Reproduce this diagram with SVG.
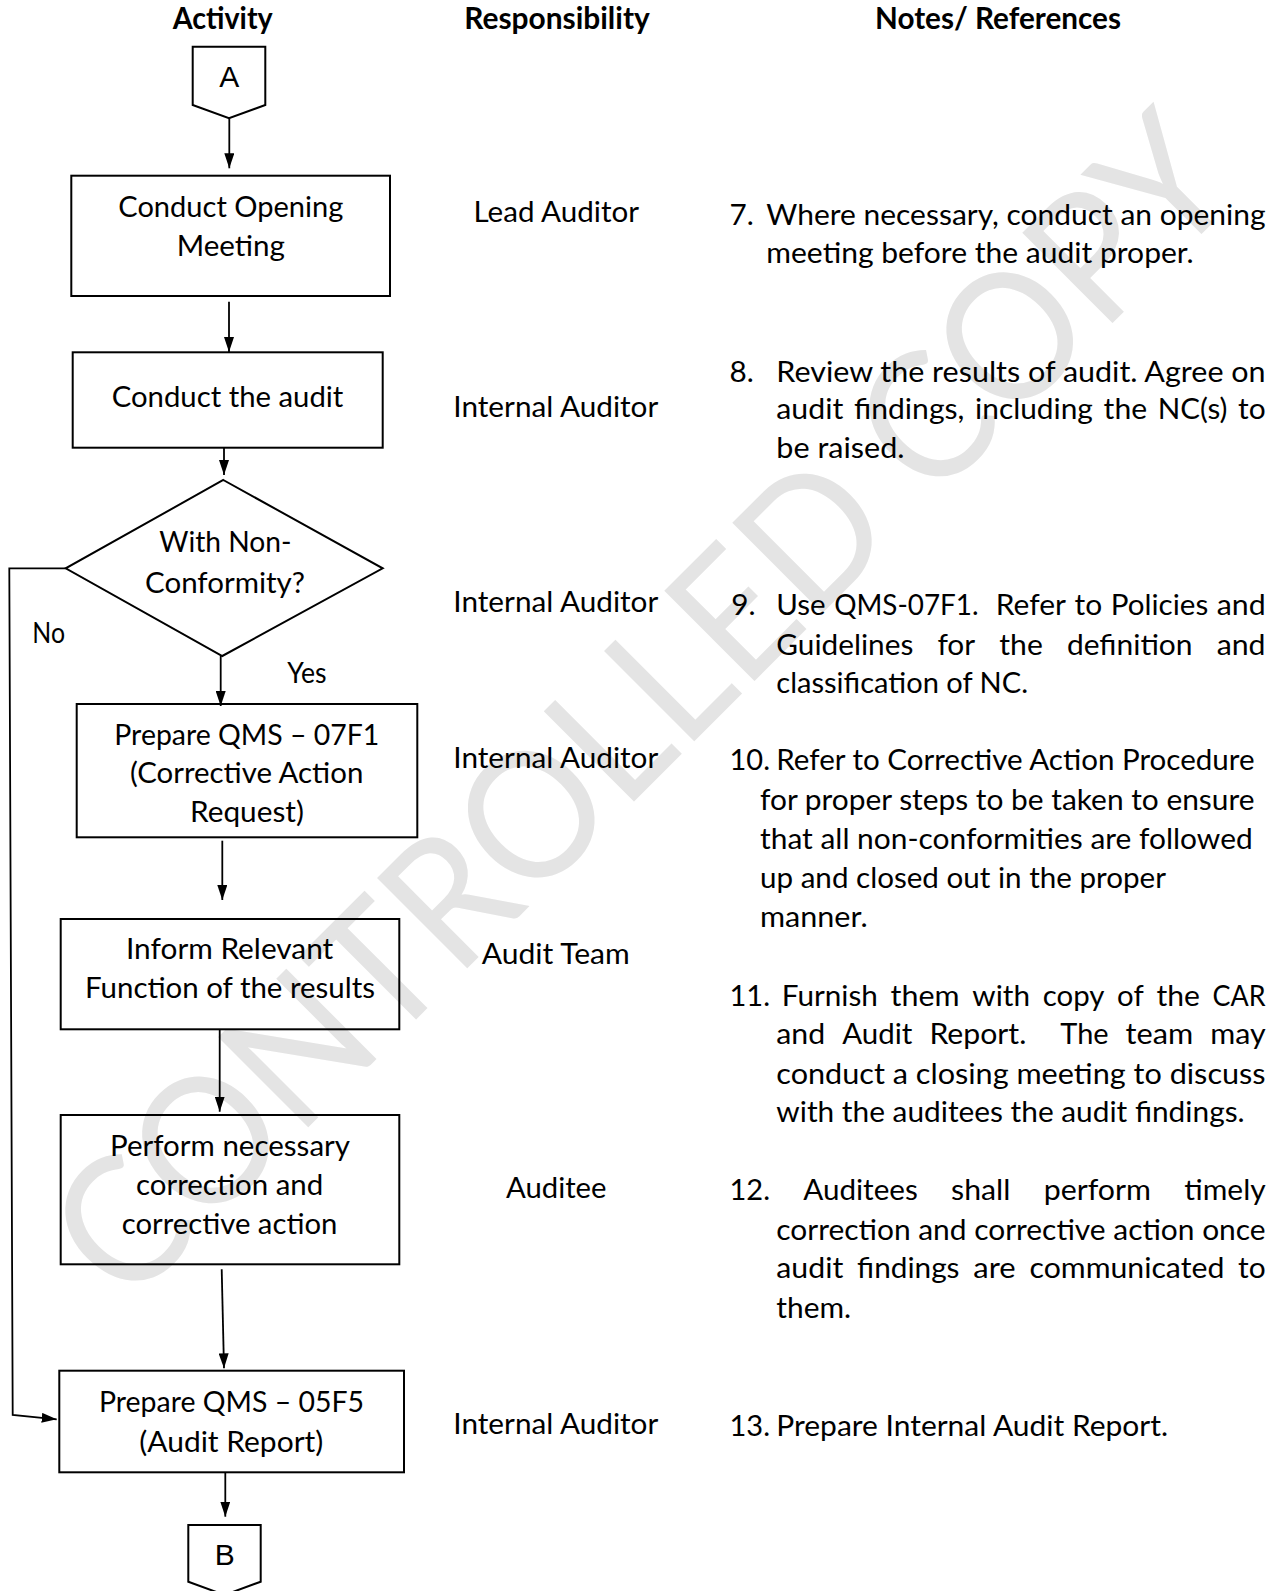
<svg xmlns="http://www.w3.org/2000/svg" width="1276" height="1591" viewBox="0 0 1276 1591">
<style>
.t{font-family:Lato,"Liberation Sans",sans-serif;font-size:29.5px;fill:#000}
.b{font-family:Lato,"Liberation Sans",sans-serif;font-size:29.5px;font-weight:bold;fill:#000}
.ab{font-family:"Liberation Sans",Arial,sans-serif;font-size:30px;fill:#000}
.wm{font-family:Lato,"Liberation Sans",sans-serif;font-size:178px;fill:#e4e4e4}
.shape{fill:none;stroke:#000;stroke-width:2}
.conn{fill:none;stroke:#000;stroke-width:1.8}
</style>
<defs>
<marker id="arr" viewBox="0 0 15 10" refX="15" refY="5" markerWidth="15" markerHeight="10" markerUnits="userSpaceOnUse" orient="auto">
<path d="M0,0 L15,5 L0,10 z" fill="#000"/>
</marker>
</defs>
<rect width="1276" height="1591" fill="#fff"/>
<g id="watermark">
<text class="wm" transform="translate(640,705) rotate(-45)" x="-790" y="64" textLength="1580" lengthAdjust="spacingAndGlyphs">CONTROLLED COPY</text>
</g>
<g id="headers">
<text class="b" x="172.7" y="28.5" textLength="100" lengthAdjust="spacingAndGlyphs">Activity</text>
<text class="b" x="464.2" y="28.5" textLength="185.6" lengthAdjust="spacingAndGlyphs">Responsibility</text>
<text class="b" x="875" y="28.5" textLength="246" lengthAdjust="spacingAndGlyphs">Notes/ References</text>
</g>
<g id="connectors">
<line class="conn" x1="229.3" y1="118.3" x2="229.3" y2="168.3" marker-end="url(#arr)"/>
<line class="conn" x1="229" y1="301.7" x2="229" y2="352" marker-end="url(#arr)"/>
<line class="conn" x1="224" y1="447.7" x2="224" y2="475" marker-end="url(#arr)"/>
<line class="conn" x1="220.7" y1="656" x2="220.7" y2="706" marker-end="url(#arr)"/>
<line class="conn" x1="222.3" y1="840.7" x2="222.3" y2="900" marker-end="url(#arr)"/>
<line class="conn" x1="219.7" y1="1029.3" x2="219.7" y2="1111.7" marker-end="url(#arr)"/>
<line class="conn" x1="221.7" y1="1269.3" x2="224" y2="1368.3" marker-end="url(#arr)"/>
<line class="conn" x1="225.3" y1="1472.3" x2="225.3" y2="1516.7" marker-end="url(#arr)"/>
<polyline class="conn" points="65.7,568.3 9.3,568.3 12.7,1415 56.7,1419.3" marker-end="url(#arr)"/>
<text class="t" x="32.3" y="643.3" textLength="32.7" lengthAdjust="spacingAndGlyphs">No</text>
<text class="t" x="287.3" y="683.3" textLength="39.3" lengthAdjust="spacingAndGlyphs">Yes</text>
</g>
<g id="nodeA">
<polygon class="shape" points="192.7,46.7 265.3,46.7 265.3,105 229,118.3 192.7,105"/>
<text class="ab" x="229.3" y="86.7" text-anchor="middle">A</text>
</g>
<g id="node1">
<rect class="shape" x="71.3" y="175.7" width="318.7" height="120.3"/>
<text class="t" x="118.3" y="217.3" textLength="225" lengthAdjust="spacingAndGlyphs">Conduct Opening</text>
<text class="t" x="176.7" y="256" textLength="108.3" lengthAdjust="spacingAndGlyphs">Meeting</text>
</g>
<g id="node2">
<rect class="shape" x="72.7" y="352.3" width="310" height="95.4"/>
<text class="t" x="111.7" y="407.3" textLength="231.7" lengthAdjust="spacingAndGlyphs">Conduct the audit</text>
</g>
<g id="decision">
<polygon class="shape" points="223.3,480 382.7,568.3 222.3,656 65.7,568.3"/>
<text class="t" x="159.3" y="551.7" textLength="132.3" lengthAdjust="spacingAndGlyphs">With Non-</text>
<text class="t" x="145" y="592.7" textLength="160" lengthAdjust="spacingAndGlyphs">Conformity?</text>
</g>
<g id="node3">
<rect class="shape" x="76.7" y="704" width="340.6" height="133.3"/>
<text class="t" x="114.3" y="745" textLength="265" lengthAdjust="spacingAndGlyphs">Prepare QMS – 07F1</text>
<text class="t" x="130" y="783.3" textLength="233.3" lengthAdjust="spacingAndGlyphs">(Corrective Action</text>
<text class="t" x="190" y="821.7" textLength="114" lengthAdjust="spacingAndGlyphs">Request)</text>
</g>
<g id="node4">
<rect class="shape" x="60.7" y="919" width="338.6" height="110.3"/>
<text class="t" x="126" y="959.3" textLength="207.3" lengthAdjust="spacingAndGlyphs">Inform Relevant</text>
<text class="t" x="85" y="997.7" textLength="290" lengthAdjust="spacingAndGlyphs">Function of the results</text>
</g>
<g id="node5">
<rect class="shape" x="60.7" y="1115" width="338.6" height="149.3"/>
<text class="t" x="110" y="1156" textLength="240" lengthAdjust="spacingAndGlyphs">Perform necessary</text>
<text class="t" x="136" y="1195" textLength="187.3" lengthAdjust="spacingAndGlyphs">correction and</text>
<text class="t" x="121.7" y="1234.3" textLength="215.7" lengthAdjust="spacingAndGlyphs">corrective action</text>
</g>
<g id="node6">
<rect class="shape" x="59.3" y="1370.7" width="344.7" height="101.6"/>
<text class="t" x="99" y="1411.7" textLength="265" lengthAdjust="spacingAndGlyphs">Prepare QMS – 05F5</text>
<text class="t" x="139.3" y="1451.7" textLength="184" lengthAdjust="spacingAndGlyphs">(Audit Report)</text>
</g>
<g id="nodeB">
<polygon class="shape" points="188.3,1525 260.7,1525 260.7,1581.7 224.5,1595 188.3,1581.7"/>
<text class="ab" x="224.7" y="1565" text-anchor="middle">B</text>
</g>
<g id="responsibility">
<text class="t" x="473.5" y="221.5" textLength="165.5" lengthAdjust="spacingAndGlyphs">Lead Auditor</text>
<text class="t" x="453.3" y="417.2" textLength="205" lengthAdjust="spacingAndGlyphs">Internal Auditor</text>
<text class="t" x="453.3" y="612" textLength="205" lengthAdjust="spacingAndGlyphs">Internal Auditor</text>
<text class="t" x="453.3" y="768.2" textLength="205" lengthAdjust="spacingAndGlyphs">Internal Auditor</text>
<text class="t" x="481.8" y="964" textLength="148" lengthAdjust="spacingAndGlyphs">Audit Team</text>
<text class="t" x="506" y="1198.3" textLength="100.5" lengthAdjust="spacingAndGlyphs">Auditee</text>
<text class="t" x="453.3" y="1433.5" textLength="205" lengthAdjust="spacingAndGlyphs">Internal Auditor</text>
</g>
<g id="notes">
<text class="t" x="729.5" y="224.5" textLength="24.3" lengthAdjust="spacingAndGlyphs">7.</text>
<text class="t" x="766.3" y="224.5" textLength="499.3" lengthAdjust="spacingAndGlyphs">Where necessary, conduct an opening</text>
<text class="t" x="766.3" y="263" textLength="427.4" lengthAdjust="spacingAndGlyphs">meeting before the audit proper.</text>

<text class="t" x="729.5" y="381.7" textLength="24.3" lengthAdjust="spacingAndGlyphs">8.</text>
<text class="t" x="776.3" y="381.7" textLength="489.3" lengthAdjust="spacingAndGlyphs">Review the results of audit. Agree on</text>
<text class="t" x="776.3" y="419.3" textLength="67" lengthAdjust="spacingAndGlyphs">audit</text>
<text class="t" x="854" y="419.3" textLength="110.4" lengthAdjust="spacingAndGlyphs">findings,</text>
<text class="t" x="975.1" y="419.3" textLength="117.8" lengthAdjust="spacingAndGlyphs">including</text>
<text class="t" x="1103.6" y="419.3" textLength="43.5" lengthAdjust="spacingAndGlyphs">the</text>
<text class="t" x="1157.8" y="419.3" textLength="69.6" lengthAdjust="spacingAndGlyphs">NC(s)</text>
<text class="t" x="1238" y="419.3" textLength="27.6" lengthAdjust="spacingAndGlyphs">to</text>
<text class="t" x="776.3" y="457.8" textLength="128.2" lengthAdjust="spacingAndGlyphs">be raised.</text>

<text class="t" x="731.3" y="615" textLength="24.3" lengthAdjust="spacingAndGlyphs">9.</text>
<text class="t" x="776.3" y="615" textLength="49.3" lengthAdjust="spacingAndGlyphs">Use</text>
<text class="t" x="834.2" y="615" textLength="144.4" lengthAdjust="spacingAndGlyphs">QMS-07F1.</text>
<text class="t" x="995.8" y="615" textLength="70.2" lengthAdjust="spacingAndGlyphs">Refer</text>
<text class="t" x="1074.6" y="615" textLength="27.6" lengthAdjust="spacingAndGlyphs">to</text>
<text class="t" x="1110.8" y="615" textLength="97.4" lengthAdjust="spacingAndGlyphs">Policies</text>
<text class="t" x="1216.8" y="615" textLength="48.9" lengthAdjust="spacingAndGlyphs">and</text>
<text class="t" x="776.3" y="654.6" textLength="137" lengthAdjust="spacingAndGlyphs">Guidelines</text>
<text class="t" x="937.4" y="654.6" textLength="37.8" lengthAdjust="spacingAndGlyphs">for</text>
<text class="t" x="999.3" y="654.6" textLength="43.5" lengthAdjust="spacingAndGlyphs">the</text>
<text class="t" x="1066.9" y="654.6" textLength="125.7" lengthAdjust="spacingAndGlyphs">definition</text>
<text class="t" x="1216.7" y="654.6" textLength="48.9" lengthAdjust="spacingAndGlyphs">and</text>
<text class="t" x="776.3" y="693.1" textLength="251.7" lengthAdjust="spacingAndGlyphs">classification of NC.</text>

<text class="t" x="729.5" y="770.2" textLength="40.5" lengthAdjust="spacingAndGlyphs">10.</text>
<text class="t" x="776.3" y="770.2" textLength="478.2" lengthAdjust="spacingAndGlyphs">Refer to Corrective Action Procedure</text>
<text class="t" x="760" y="809.8" textLength="494.5" lengthAdjust="spacingAndGlyphs">for proper steps to be taken to ensure</text>
<text class="t" x="760" y="849.3" textLength="492.7" lengthAdjust="spacingAndGlyphs">that all non-conformities are followed</text>
<text class="t" x="760" y="888" textLength="406" lengthAdjust="spacingAndGlyphs">up and closed out in the proper</text>
<text class="t" x="760" y="927.4" textLength="107.6" lengthAdjust="spacingAndGlyphs">manner.</text>

<text class="t" x="729.5" y="1005.5" textLength="40.5" lengthAdjust="spacingAndGlyphs">11.</text>
<text class="t" x="781.8" y="1005.5" textLength="96.1" lengthAdjust="spacingAndGlyphs">Furnish</text>
<text class="t" x="890.6" y="1005.5" textLength="69" lengthAdjust="spacingAndGlyphs">them</text>
<text class="t" x="972.3" y="1005.5" textLength="57.7" lengthAdjust="spacingAndGlyphs">with</text>
<text class="t" x="1042.7" y="1005.5" textLength="61.7" lengthAdjust="spacingAndGlyphs">copy</text>
<text class="t" x="1117.1" y="1005.5" textLength="26.6" lengthAdjust="spacingAndGlyphs">of</text>
<text class="t" x="1156.4" y="1005.5" textLength="43.5" lengthAdjust="spacingAndGlyphs">the</text>
<text class="t" x="1212.6" y="1005.5" textLength="53" lengthAdjust="spacingAndGlyphs">CAR</text>
<text class="t" x="776.3" y="1044.1" textLength="48.9" lengthAdjust="spacingAndGlyphs">and</text>
<text class="t" x="842.2" y="1044.1" textLength="70.2" lengthAdjust="spacingAndGlyphs">Audit</text>
<text class="t" x="929.4" y="1044.1" textLength="96.9" lengthAdjust="spacingAndGlyphs">Report.</text>
<text class="t" x="1060.3" y="1044.1" textLength="48.3" lengthAdjust="spacingAndGlyphs">The</text>
<text class="t" x="1125.6" y="1044.1" textLength="67.6" lengthAdjust="spacingAndGlyphs">team</text>
<text class="t" x="1210.2" y="1044.1" textLength="55.4" lengthAdjust="spacingAndGlyphs">may</text>
<text class="t" x="776.3" y="1083.6" textLength="489.3" lengthAdjust="spacingAndGlyphs">conduct a closing meeting to discuss</text>
<text class="t" x="776.3" y="1122.2" textLength="468.3" lengthAdjust="spacingAndGlyphs">with the auditees the audit findings.</text>

<text class="t" x="729.5" y="1200.3" textLength="40.5" lengthAdjust="spacingAndGlyphs">12.</text>
<text class="t" x="803.2" y="1200.3" textLength="114.6" lengthAdjust="spacingAndGlyphs">Auditees</text>
<text class="t" x="951.1" y="1200.3" textLength="59.3" lengthAdjust="spacingAndGlyphs">shall</text>
<text class="t" x="1043.7" y="1200.3" textLength="107.3" lengthAdjust="spacingAndGlyphs">perform</text>
<text class="t" x="1184.3" y="1200.3" textLength="81.4" lengthAdjust="spacingAndGlyphs">timely</text>
<text class="t" x="776.3" y="1239.8" textLength="489.3" lengthAdjust="spacingAndGlyphs">correction and corrective action once</text>
<text class="t" x="776.3" y="1278.4" textLength="67" lengthAdjust="spacingAndGlyphs">audit</text>
<text class="t" x="857.1" y="1278.4" textLength="102.4" lengthAdjust="spacingAndGlyphs">findings</text>
<text class="t" x="973.3" y="1278.4" textLength="42.4" lengthAdjust="spacingAndGlyphs">are</text>
<text class="t" x="1029.5" y="1278.4" textLength="194.8" lengthAdjust="spacingAndGlyphs">communicated</text>
<text class="t" x="1238.1" y="1278.4" textLength="27.6" lengthAdjust="spacingAndGlyphs">to</text>
<text class="t" x="776.3" y="1317.9" textLength="74.8" lengthAdjust="spacingAndGlyphs">them.</text>

<text class="t" x="729.5" y="1435.6" textLength="40.5" lengthAdjust="spacingAndGlyphs">13.</text>
<text class="t" x="776.3" y="1435.6" textLength="391.7" lengthAdjust="spacingAndGlyphs">Prepare Internal Audit Report.</text>
</g>
</svg>
